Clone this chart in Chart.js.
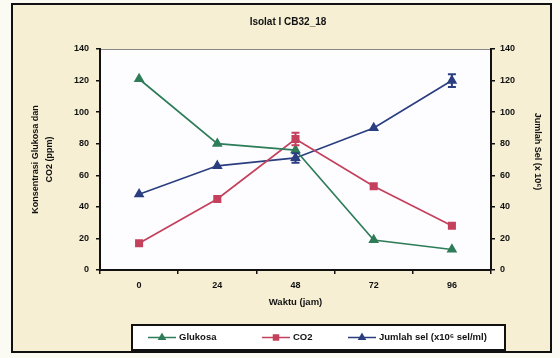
<!DOCTYPE html>
<html>
<head>
<meta charset="utf-8">
<script src="https://cdn.jsdelivr.net/npm/chart.js@4/dist/chart.umd.min.js"></script>
<style>
  html, body { margin: 0; padding: 0; background: #fbfaf3; }
  #wrap { width: 560px; height: 358px; }
</style>
</head>
<body>
<div id="wrap"><canvas id="c" width="560" height="358"></canvas></div>
<script>
// Sampling times (hours)
const times = ['0', '24', '48', '72', '96'];
// Glucose and CO2 (left axis), cell count (right axis)
const glukosa = [121, 80, 76, 19, 13];
const co2 = [17, 45, 83, 53, 28];
const jumlahSel = [48, 66, 71, 90, 120];
// Standard deviations shown as error bars
const glukosaErr = [0, 0, 0, 0, 0];
const co2Err = [0, 0, 4, 0, 0];
const jumlahSelErr = [0, 0, 3, 0, 4];
// Axis ticks
const yTicks = [0, 20, 40, 60, 80, 100, 120, 140];

const chartTitle = 'Isolat I CB32_18';
const xTitle = 'Waktu (jam)';
const yTitle = ['Konsentrasi Glukosa dan', 'CO2 (ppm)'];
const y2Title = 'Jumlah Sel (x 10⁶)';
const legendNames = ['Glukosa', 'CO2', 'Jumlah sel (x10⁶ sel/ml)'];

const GREEN = '#2e7d58';
const RED = '#c4405c';
const BLUE = '#2b3f80';
const FONT = "'Liberation Sans', Arial, sans-serif";

const PLOT_L = 100, PLOT_R = 491, PLOT_T = 49, PLOT_B = 270;
const W = 560, H = 358;

// Frame, cream background and white plot area
const framePlugin = {
  id: 'frame',
  beforeDraw(chart) {
    const ctx = chart.ctx;
    ctx.save();
    ctx.fillStyle = '#fbfaf3';
    ctx.fillRect(0, 0, W, H);
    ctx.fillStyle = '#f6efd3';
    ctx.fillRect(12, 4, 539, 348);
    ctx.strokeStyle = '#111';
    ctx.lineWidth = 2;
    ctx.strokeRect(12, 4, 539, 348);
    const a = chart.chartArea;
    ctx.fillStyle = '#fdfdff';
    ctx.fillRect(a.left, a.top, a.right - a.left, a.bottom - a.top);
    ctx.strokeStyle = '#888';
    ctx.lineWidth = 1;
    ctx.beginPath();
    ctx.moveTo(a.left, a.top + 0.5);
    ctx.lineTo(a.right, a.top + 0.5);
    ctx.stroke();
    // title
    ctx.fillStyle = '#111';
    ctx.font = 'bold 10px ' + FONT;
    ctx.textAlign = 'center';
    ctx.textBaseline = 'middle';
    ctx.fillText(chartTitle, 288, 22);
    ctx.restore();
  }
};

// Error bars drawn from the error arrays through the chart scales
const errorPlugin = {
  id: 'errbars',
  afterDatasetsDraw(chart) {
    const ctx = chart.ctx;
    ctx.save();
    chart.data.datasets.forEach((ds, i) => {
      const meta = chart.getDatasetMeta(i);
      const ys = chart.scales[ds.yAxisID];
      ds.errors.forEach((e, j) => {
        if (!e) return;
        const x = meta.data[j].x;
        const yTop = ys.getPixelForValue(ds.data[j] + e);
        const yBot = ys.getPixelForValue(ds.data[j] - e);
        ctx.strokeStyle = ds.borderColor;
        ctx.lineWidth = 2;
        ctx.beginPath();
        ctx.moveTo(x, yTop); ctx.lineTo(x, yBot);
        ctx.moveTo(x - 4, yTop); ctx.lineTo(x + 4, yTop);
        ctx.moveTo(x - 4, yBot); ctx.lineTo(x + 4, yBot);
        ctx.stroke();
      });
    });
    ctx.restore();
  }
};

// Boxed legend with line + marker samples
const legendPlugin = {
  id: 'boxLegend',
  afterDraw(chart) {
    const ctx = chart.ctx;
    ctx.save();
    ctx.fillStyle = '#ffffff';
    ctx.fillRect(132, 325, 373, 25);
    ctx.strokeStyle = '#111';
    ctx.lineWidth = 2;
    ctx.strokeRect(132, 325, 373, 25);
    const starts = [148, 262, 348];
    const cy = 337.5;
    chart.data.datasets.forEach((ds, i) => {
      const x0 = starts[i];
      ctx.strokeStyle = ds.borderColor;
      ctx.lineWidth = 1.5;
      ctx.beginPath();
      ctx.moveTo(x0, cy); ctx.lineTo(x0 + 28, cy);
      ctx.stroke();
      ctx.fillStyle = ds.borderColor;
      ctx.strokeStyle = ds.borderColor;
      Chart.helpers.drawPoint(ctx, {
        pointStyle: ds.pointStyle, radius: 3.5, borderWidth: 1
      }, x0 + 14, cy);
      ctx.fill();
      ctx.fillStyle = '#111';
      ctx.font = 'bold 9.5px ' + FONT;
      ctx.textAlign = 'left';
      ctx.textBaseline = 'middle';
      ctx.fillText(legendNames[i], x0 + 31, cy);
    });
    ctx.restore();
  }
};

function series(label, data, errors, color, style, axis) {
  return {
    label, data, errors,
    yAxisID: axis,
    borderColor: color,
    backgroundColor: color,
    pointBackgroundColor: color,
    pointBorderColor: color,
    pointStyle: style,
    pointRadius: 4.5,
    borderWidth: 1.7,
    tension: 0
  };
}

const tickFont = { family: FONT, size: 9, weight: 'bold' };

new Chart(document.getElementById('c'), {
  type: 'line',
  data: {
    labels: times,
    datasets: [
      series(legendNames[0], glukosa, glukosaErr, GREEN, 'triangle', 'y'),
      series(legendNames[1], co2, co2Err, RED, 'rect', 'y'),
      series(legendNames[2], jumlahSel, jumlahSelErr, BLUE, 'triangle', 'y2')
    ]
  },
  options: {
    responsive: false,
    animation: false,
    layout: { padding: { left: 0, right: 0, top: PLOT_T, bottom: 0 } },
    plugins: { legend: { display: false }, title: { display: false }, tooltip: { enabled: false } },
    scales: {
      x: {
        type: 'category',
        offset: true,
        grid: { offset: true, drawOnChartArea: false, drawTicks: true, tickLength: 4, color: '#111', lineWidth: 1.5 },
        border: { color: '#111', width: 2 },
        ticks: { font: tickFont, color: '#111', padding: 6, maxRotation: 0 },
        title: { display: true, text: xTitle, font: { family: FONT, size: 9.5, weight: 'bold' }, color: '#111', padding: { top: 0, bottom: 50 } },
        afterFit(s) { s.height = H - PLOT_B; }
      },
      y: {
        position: 'left',
        min: 0, max: 140,
        afterBuildTicks(s) { s.ticks = yTicks.map(v => ({ value: v })); },
        grid: { drawOnChartArea: false, tickLength: 4, color: '#111', lineWidth: 1.5 },
        border: { color: '#111', width: 2 },
        ticks: { font: tickFont, color: '#111', padding: 7 },
        afterFit(s) { s.width = PLOT_L; }
      },
      y2: {
        position: 'right',
        min: 0, max: 140,
        afterBuildTicks(s) { s.ticks = yTicks.map(v => ({ value: v })); },
        grid: { drawOnChartArea: false, tickLength: 4, color: '#111', lineWidth: 1.5 },
        border: { color: '#111', width: 2 },
        ticks: { font: tickFont, color: '#111', padding: 5 },
        afterFit(s) { s.width = W - PLOT_R; }
      }
    }
  },
  plugins: [framePlugin, errorPlugin, legendPlugin, {
    id: 'axisTitles',
    afterDraw(chart) {
      const ctx = chart.ctx;
      const a = chart.chartArea;
      const cy = (a.top + a.bottom) / 2;
      ctx.save();
      ctx.fillStyle = '#111';
      ctx.font = 'bold 9px ' + FONT;
      ctx.textAlign = 'center';
      ctx.textBaseline = 'middle';
      ctx.translate(36, cy);
      ctx.rotate(-Math.PI / 2);
      ctx.fillText(yTitle[0], 0, 0);
      ctx.fillText(yTitle[1], 0, 14);
      ctx.restore();
      ctx.save();
      ctx.fillStyle = '#111';
      ctx.font = 'bold 9px ' + FONT;
      ctx.textAlign = 'center';
      ctx.textBaseline = 'middle';
      ctx.translate(537, cy - 8);
      ctx.rotate(Math.PI / 2);
      ctx.fillText(y2Title, 0, 0);
      ctx.restore();
    }
  }]
});
</script>
</body>
</html>
